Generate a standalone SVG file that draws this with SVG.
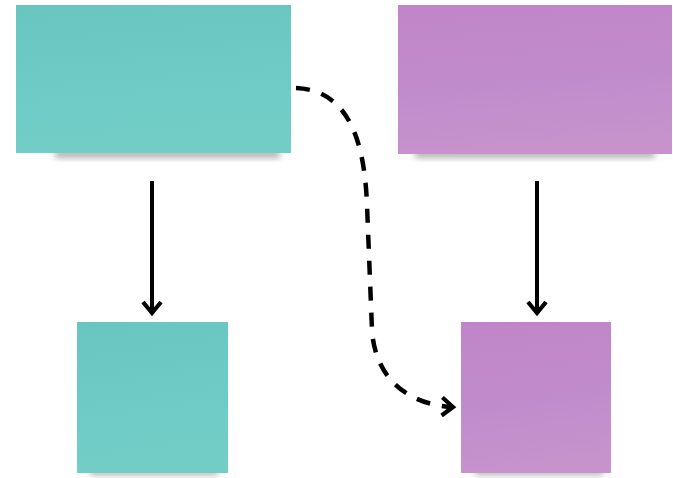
<svg xmlns="http://www.w3.org/2000/svg" width="673" height="478" viewBox="0 0 673 478">
<defs>
<linearGradient id="gTeal" x1="0" y1="0" x2="0.15" y2="1">
<stop offset="0" stop-color="#68c5bf"/>
<stop offset="0.6" stop-color="#6fcbc5"/>
<stop offset="1" stop-color="#72cdc7"/>
</linearGradient>
<linearGradient id="gPurple" x1="0" y1="0" x2="0.15" y2="1">
<stop offset="0" stop-color="#c085c8"/>
<stop offset="0.6" stop-color="#c18ccb"/>
<stop offset="1" stop-color="#c693cd"/>
</linearGradient>
<filter id="shadow" x="-20%" y="-50%" width="140%" height="200%">
<feGaussianBlur stdDeviation="3"/>
</filter>
<marker id="chev" viewBox="0 0 24 24" refX="19" refY="12" markerWidth="24" markerHeight="24" markerUnits="userSpaceOnUse" orient="auto">
<path d="M8,3 L19,12 L8,21" fill="none" stroke="#000" stroke-width="4.2" stroke-linecap="butt"/>
</marker>
</defs>
<style>
.sh{fill:#555;opacity:0.45;filter:url(#shadow)}
.teal{fill:url(#gTeal)}
.purple{fill:url(#gPurple)}
.solid{fill:none;stroke:#000;stroke-width:4}
.dash{fill:none;stroke:#000;stroke-width:4.5;stroke-dasharray:14 12}
</style>
<rect width="673" height="478" fill="#fff"/>
<g id="note-teal-top">
<rect class="sh" x="55" y="150" width="225" height="8"/>
<rect class="teal" x="16" y="5" width="275" height="148"/>
</g>
<g id="note-purple-top">
<rect class="sh" x="415" y="150" width="240" height="8"/>
<rect class="purple" x="398" y="5" width="274" height="149"/>
</g>
<g id="note-teal-bottom">
<rect class="sh" x="90" y="468" width="128" height="7"/>
<rect class="teal" x="77" y="322" width="151" height="151"/>
</g>
<g id="note-purple-bottom">
<rect class="sh" x="475" y="468" width="128" height="7"/>
<rect class="purple" x="461" y="322" width="150" height="151"/>
</g>
<g id="connectors">
<path class="solid" d="M152,181 L152,313" marker-end="url(#chev)"/>
<path class="solid" d="M537,181 L537,313" marker-end="url(#chev)"/>
<path class="dash" d="M296,88 C340,90 364,125 367,205 L372,330 C375,380 410,405 453,407" marker-end="url(#chev)"/>
</g>
</svg>
